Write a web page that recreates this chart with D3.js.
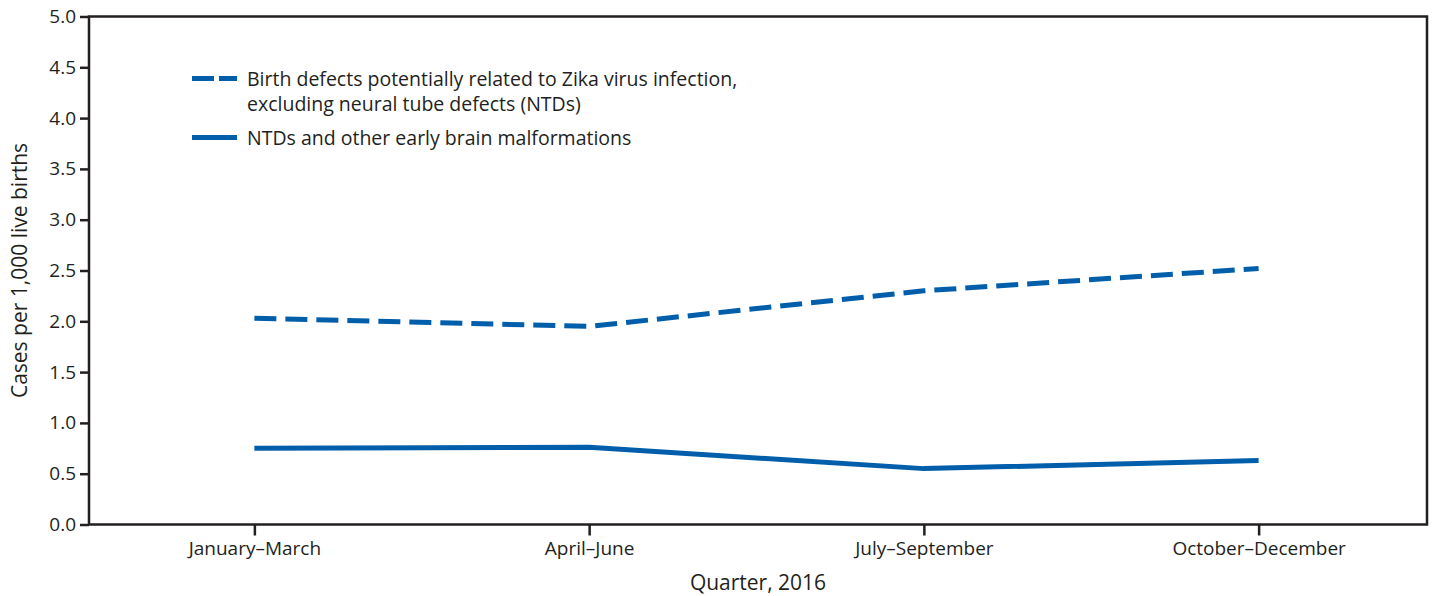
<!DOCTYPE html>
<html>
<head>
<meta charset="utf-8">
<script src="https://d3js.org/d3.v7.min.js"></script>
<style>
  body { margin: 0; background: #fff; }
  text { font-family: "Open Sans", sans-serif; fill: #231f20; }
</style>
</head>
<body>
<div id="vis"></div>
<script>
// quarters and rates per 1,000 live births
var quarters = ["January–March", "April–June", "July–September", "October–December"];
var birthDefects = [2.03, 1.95, 2.30, 2.52];
var ntds = [0.75, 0.76, 0.55, 0.63];
var yTicks = [0, 0.5, 1, 1.5, 2, 2.5, 3, 3.5, 4, 4.5, 5];
var legendLabels = [
  ["Birth defects potentially related to Zika virus infection,", "excluding neural tube defects (NTDs)"],
  ["NTDs and other early brain malformations"]
];

var W = 1433, H = 596;
var margin = { top: 16.5, right: 6, bottom: 71.5, left: 89 };
var width = W - margin.left - margin.right,
    height = H - margin.top - margin.bottom;
var blue = "#005eaa";

var svg = d3.select("#vis").append("svg")
  .attr("width", W).attr("height", H)
  .append("g")
  .attr("transform", "translate(" + margin.left + "," + margin.top + ")");

var x = d3.scalePoint().domain(quarters).range([-2, width - 1]).padding(0.5);
var y = d3.scaleLinear().domain([0, 5]).range([height, 0]);

// frame
svg.append("rect")
  .attr("width", width).attr("height", height)
  .attr("fill", "none").attr("stroke", "#231f20").attr("stroke-width", 2.5);

var yAxis = svg.append("g")
  .call(d3.axisLeft(y).tickValues(yTicks).tickFormat(d3.format(".1f")).tickSize(9).tickPadding(4));
var xAxis = svg.append("g")
  .attr("transform", "translate(0," + height + ")")
  .call(d3.axisBottom(x).tickSize(11).tickPadding(6));

[yAxis, xAxis].forEach(function(a) {
  a.select(".domain").remove();
  a.selectAll("line").attr("stroke", "#231f20").attr("stroke-width", 2.5);
  a.selectAll("text").style("font-size", "19px").attr("fill", "#231f20");
});

var line = d3.line()
  .x(function(d, i) { return x(quarters[i]); })
  .y(function(d) { return y(d); });

svg.append("path").datum(birthDefects)
  .attr("fill", "none").attr("stroke", blue).attr("stroke-width", 5)
  .attr("stroke-dasharray", "22,9")
  .attr("d", line);

svg.append("path").datum(ntds)
  .attr("fill", "none").attr("stroke", blue).attr("stroke-width", 5)
  .attr("d", line);

// legend
var lg = svg.append("g").attr("transform", "translate(103,0)");
lg.append("line").attr("x1", 0).attr("x2", 45).attr("y1", 62).attr("y2", 62)
  .attr("stroke", blue).attr("stroke-width", 5).attr("stroke-dasharray", "22,5");
lg.append("line").attr("x1", 0).attr("x2", 45).attr("y1", 121).attr("y2", 121)
  .attr("stroke", blue).attr("stroke-width", 5);
var t1 = lg.append("text").attr("x", 55).attr("y", 69).style("font-size", "19.5px");
legendLabels[0].forEach(function(s, i) {
  t1.append("tspan").attr("x", 55).attr("dy", i ? 25 : 0).text(s);
});
lg.append("text").attr("x", 55).attr("y", 128).style("font-size", "19.5px").text(legendLabels[1][0]);

// axis titles
svg.append("text")
  .attr("text-anchor", "middle")
  .attr("x", width / 2).attr("y", height + 65)
  .style("font-size", "21px")
  .text("Quarter, 2016");

svg.append("text")
  .attr("text-anchor", "middle")
  .attr("transform", "translate(-62," + (height / 2) + ") rotate(-90)")
  .style("font-size", "21px")
  .text("Cases per 1,000 live births");
</script>
</body>
</html>
